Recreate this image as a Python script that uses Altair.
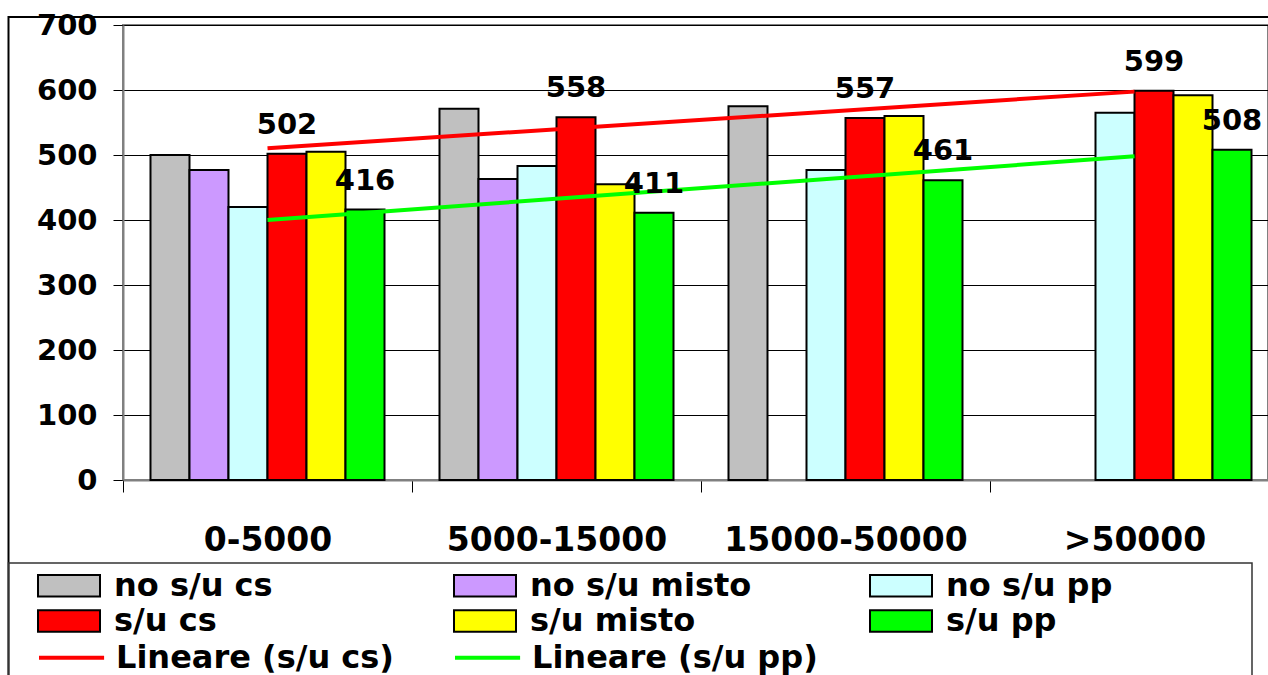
import altair as alt
import pandas as pd

FONT = "DejaVu Sans"

categories = ["0-5000", "5000-15000", "15000-50000", ">50000"]
series = ["no s/u cs", "no s/u misto", "no s/u pp", "s/u cs", "s/u misto", "s/u pp"]
bar_colors = ["#C0C0C0", "#CC99FF", "#CCFFFF", "#FF0000", "#FFFF00", "#00FF00"]

no_su_cs = [500, 571, 575, None]
no_su_misto = [477, 463, None, None]
no_su_pp = [420, 483, 477, 565]
su_cs = [502, 558, 557, 599]
su_misto = [505, 455, 560, 592]
su_pp = [416, 411, 461, 508]

labelled = ["s/u cs", "s/u pp"]
trend_names = ["Lineare (s/u cs)", "Lineare (s/u pp)"]
trend_colors = ["#FF0000", "#00FF00"]
y_ticks = [0, 100, 200, 300, 400, 500, 600, 700]

values_by_series = [no_su_cs, no_su_misto, no_su_pp, su_cs, su_misto, su_pp]
rows = []
for s, vals in zip(series, values_by_series):
    for i, (c, v) in enumerate(zip(categories, vals)):
        if v is not None:
            rows.append({"cat": c, "idx": i + 1, "series": s, "value": v})
df = pd.DataFrame(rows)

# legend is filled column by column: interleave the two rows of the reference legend
legend_order = [series[i] for i in (0, 3, 1, 4, 2, 5)]
legend_colors = [bar_colors[i] for i in (0, 3, 1, 4, 2, 5)]

x_enc = alt.X(
    "cat:N",
    scale=alt.Scale(domain=categories, range=[0, 1156], paddingInner=0, paddingOuter=0),
    axis=alt.Axis(
        title=None, labelAngle=0, labelFont=FONT, labelFontSize=33, labelFontWeight="bold",
        labelColor="black", labelPadding=32, labelLimit=600, tickBand="extent", tickSize=12,
        tickColor="black", tickWidth=1, domainColor="#808080", domainWidth=2, grid=False,
    ),
)
xoff_enc = alt.XOffset("series:N", scale=alt.Scale(domain=series, paddingInner=0, paddingOuter=0.705))
y_enc = alt.Y(
    "value:Q",
    scale=alt.Scale(domain=[0, 700], nice=False),
    axis=alt.Axis(
        title=None, values=y_ticks, labelFont=FONT, labelFontSize=29, labelFontWeight="bold",
        labelColor="black", labelPadding=16, tickSize=10, tickColor="black", tickWidth=1,
        gridColor="black", gridWidth=1, domainColor="#808080", domainWidth=2,
    ),
)

bar_legend = alt.Legend(
    title=None, orient="none", legendX=37 - 123, legendY=544, columns=3, gridAlign="all",
    symbolType="M-1,-0.7L3,-0.7L3,0.7L-1,0.7Z", symbolSize=961, symbolStrokeColor="black",
    symbolStrokeWidth=2, symbolOffset=0, labelFont=FONT, labelFontSize=32, labelFontWeight="bold",
    labelColor="black", labelLimit=600, labelOffset=44, columnPadding=114, rowPadding=2.5, padding=0,
)
line_legend = alt.Legend(
    title=None, orient="none", legendX=37 - 123, legendY=615, columns=3, gridAlign="all",
    symbolType="M-1,0L3.2,0", symbolSize=961, symbolStrokeWidth=4, symbolFillColor="transparent",
    symbolOffset=0, labelFont=FONT, labelFontSize=32, labelFontWeight="bold",
    labelColor="black", labelLimit=600, labelOffset=44, columnPadding=45, rowPadding=2.5, padding=0,
)

dummy = pd.DataFrame({"a": [0]})
frame = alt.Chart(dummy).mark_rect(fillOpacity=0, stroke="black", strokeWidth=2).encode(
    x=alt.value(8.5 - 123), x2=alt.value(2000), y=alt.value(17 - 25), y2=alt.value(1000)
)
legend_box = alt.Chart(dummy).mark_rect(fillOpacity=0, stroke="#333333", strokeWidth=1.5).encode(
    x=alt.value(8.5 - 123), x2=alt.value(1252 - 123), y=alt.value(563 - 25), y2=alt.value(1000)
)

bars = alt.Chart(df).mark_bar(stroke="black", strokeWidth=2).encode(
    x=x_enc, xOffset=xoff_enc, y=y_enc,
    fill=alt.Fill("series:N", scale=alt.Scale(domain=legend_order, range=legend_colors), legend=bar_legend),
)

cat_expr = "[" + ",".join("'" + c + "'" for c in categories) + "][round(datum.idx) - 1]"
lines = (
    alt.Chart(df)
    .transform_filter(alt.FieldOneOfPredicate(field="series", oneOf=labelled))
    .transform_regression("idx", "value", groupby=["series"], extent=[1, 4])
    .transform_calculate(cat=cat_expr, trend="'Lineare (' + datum.series + ')'")
    .mark_line(strokeWidth=4)
    .encode(
        x=alt.X("cat:N"), y=alt.Y("value:Q"),
        stroke=alt.Stroke("trend:N", scale=alt.Scale(domain=trend_names, range=trend_colors), legend=line_legend),
    )
)

labels = (
    alt.Chart(df)
    .transform_filter(alt.FieldOneOfPredicate(field="series", oneOf=labelled))
    .mark_text(font=FONT, fontSize=29, fontWeight="bold", dy=-20, baseline="alphabetic", align="center", color="black")
    .encode(x=alt.X("cat:N"), xOffset=alt.XOffset("series:N"), y=alt.Y("value:Q"), text="value:Q")
)

chart = (
    alt.layer(frame, legend_box, bars, lines, labels)
    .properties(
        width=1145, height=455,
        autosize=alt.AutoSizeParams(type="none"),
        padding={"left": 123, "top": 25, "right": 0, "bottom": 195},
    )
    .configure(font=FONT)
    .configure_view(stroke="#808080", strokeWidth=2)
)

chart.save("out.html", embed_options={"renderer": "svg", "actions": False})
